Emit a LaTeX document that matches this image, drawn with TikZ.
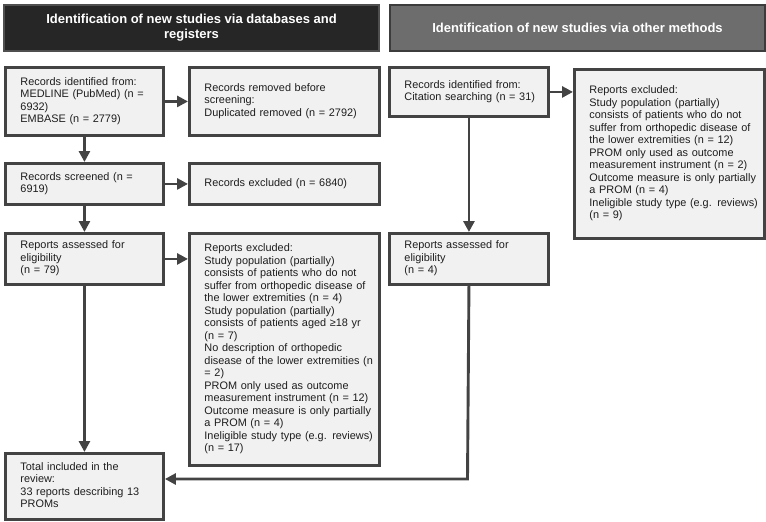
\documentclass[tikz,border=0pt]{standalone}
\usepackage{fontspec}
\setmainfont{Liberation Sans}
\usetikzlibrary{arrows.meta}
\definecolor{boxfill}{HTML}{F1F1F1}
\definecolor{boxline}{HTML}{434343}
\definecolor{boxtext}{HTML}{1E1E1E}
\definecolor{hdone}{HTML}{262626}
\definecolor{hdoneline}{HTML}{4F4F4F}
\definecolor{hdtwo}{HTML}{6D6D6D}
\definecolor{hdtwoline}{HTML}{3C3C3C}
\begin{document}
\begin{tikzpicture}[x=1pt,y=-1pt,
  box/.style={draw=boxline, line width=2.9pt, fill=boxfill, anchor=north west,
    inner xsep=15pt, inner ysep=0pt, align=left, text=boxtext,
    font=\fontsize{10.9}{12.5}\selectfont},
  hdr/.style={line width=2pt, anchor=north west, inner sep=0pt, align=center,
    text=white, font=\fontsize{13}{15}\selectfont\bfseries,
    minimum width=375pt, minimum height=46pt},
  arr/.style={draw=boxline, line width=2.9pt, -{Triangle[length=11pt,width=11pt]}}
]
\useasboundingbox (0,0) rectangle (766,522);

% headers
\node[hdr, draw=hdoneline, fill=hdone] (h1) at (3,4)
  {Identification of new studies via databases and\\registers};
\node[hdr, draw=hdtwoline, fill=hdtwo] (h2) at (389,4)
  {Identification of new studies via other methods};

% left column
\node[box, text width=128pt, minimum width=158pt, minimum height=68pt] (A) at (4,66)
  {\begin{tabular}{@{}l@{}}Records identified from:\\MEDLINE (PubMed) (n =\\6932)\\EMBASE (n = 2779)\end{tabular}};
\node[box, text width=160pt, minimum width=190pt, minimum height=68pt] (B) at (188,66)
  {\begin{tabular}{@{}l@{}}Records removed before\\screening:\\Duplicated removed (n = 2792)\end{tabular}};
\node[box, text width=128pt, minimum width=158pt, minimum height=41pt] (C) at (4,162)
  {\begin{tabular}{@{}l@{}}Records screened (n =\\6919)\end{tabular}};
\node[box, text width=160pt, minimum width=190pt, minimum height=41pt] (D) at (188,162)
  {\begin{tabular}{@{}l@{}}Records excluded (n = 6840)\end{tabular}};
\node[box, text width=128pt, minimum width=158pt, minimum height=51pt] (E) at (4,232)
  {\begin{tabular}{@{}l@{}}Reports assessed for\\eligibility\\(n = 79)\end{tabular}};
\node[box, text width=160pt, minimum width=190pt, minimum height=232pt] (F) at (188,232)
  {\begin{tabular}{@{}l@{}}Reports excluded:\\Study population (partially)\\consists of patients who do not\\suffer from orthopedic disease of\\the lower extremities (n = 4)\\Study population (partially)\\consists of patients aged ≥18 yr\\(n = 7)\\No description of orthopedic\\disease of the lower extremities (n\\= 2)\\PROM only used as outcome\\measurement instrument (n = 12)\\Outcome measure is only partially\\a PROM (n = 4)\\Ineligible study type (e.g. reviews)\\(n = 17)\end{tabular}};
\node[box, text width=128pt, minimum width=158pt, minimum height=66pt] (G) at (4,452)
  {\begin{tabular}{@{}l@{}}Total included in the\\review:\\33 reports describing 13\\PROMs\end{tabular}};

% right column
\node[box, text width=129pt, minimum width=159pt, minimum height=49pt] (H) at (388,66)
  {\begin{tabular}{@{}l@{}}Records identified from:\\Citation searching (n = 31)\end{tabular}};
\node[box, text width=160pt, minimum width=190pt, minimum height=169pt] (I) at (573,68)
  {\begin{tabular}{@{}l@{}}Reports excluded:\\Study population (partially)\\consists of patients who do not\\suffer from orthopedic disease of\\the lower extremities (n = 12)\\PROM only used as outcome\\measurement instrument (n = 2)\\Outcome measure is only partially\\a PROM (n = 4)\\Ineligible study type (e.g. reviews)\\(n = 9)\end{tabular}};
\node[box, text width=129pt, minimum width=159pt, minimum height=51pt] (J) at (388,232)
  {\begin{tabular}{@{}l@{}}Reports assessed for\\eligibility\\(n = 4)\end{tabular}};

% connectors
\draw[arr] (A) -- (B);
\draw[arr] (A) -- (C);
\draw[arr] (C) -- (D);
\draw[arr] (C) -- (E);
\draw[arr] (E.east) -- (E.east -| F.west);
\draw[arr] (E) -- (G);
\draw[arr] (H.east) -- (H.east -| I.west);
\draw[arr] (H) -- (J);
\coordinate (turn) at (467.5,479);
\draw[arr] (J.south) -- (turn) -- (turn -| G.east);
\end{tikzpicture}
\end{document}
